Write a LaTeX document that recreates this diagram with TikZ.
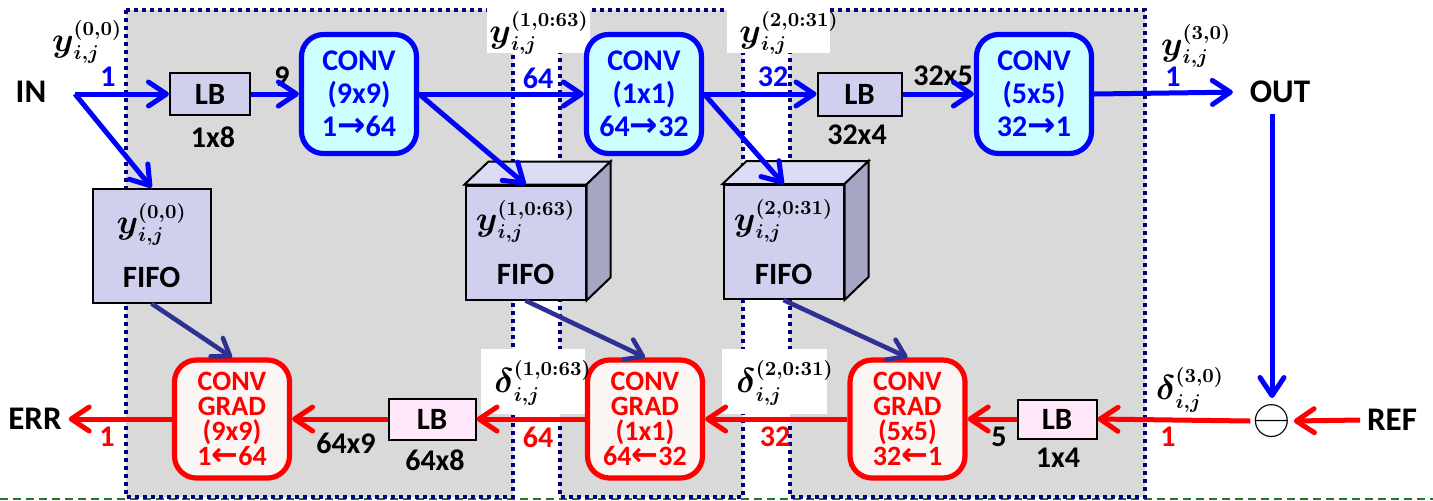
\documentclass[tikz,border=0pt]{standalone}
\usepackage{amsmath, amssymb}
\usepackage[no-math]{fontspec}
\setmainfont{Carlito}
\newfontfamily\arrowfont{DejaVu Sans}
\usepackage{tikz}
\usetikzlibrary{arrows.meta, positioning, calc}
\usepackage{xcolor}
\definecolor{fwdblue}{HTML}{0000FF}
\definecolor{bwdred}{HTML}{FF0000}
\definecolor{convfill}{HTML}{CCFFFF}
\definecolor{gradfill}{HTML}{FBF5F3}
\definecolor{lbtopfill}{HTML}{D0D0EE}
\definecolor{lbbotfill}{HTML}{FFE8F9}
\definecolor{fifofront}{HTML}{D0D0EE}
\definecolor{fifotop}{HTML}{DCDCF4}
\definecolor{fifoside}{HTML}{A6A6C4}
\definecolor{fifonavy}{HTML}{2E3192}
\definecolor{panelgray}{HTML}{D9D9D9}
\definecolor{panelnavy}{HTML}{000080}
\definecolor{dashgreen}{HTML}{1E7B1E}

\newcommand{\ylab}[1]{{\fontsize{14}{16}\selectfont\boldmath$\text{\fontsize{18}{20}\selectfont$y$}^{(#1)}_{i,j}$}}
\newcommand{\dlab}[1]{{\fontsize{14}{16}\selectfont\boldmath$\text{\fontsize{18}{20}\selectfont$\delta$}^{(#1)}_{i,j}$}}
\newcommand{\toarr}{{\arrowfont\bfseries\fontsize{17}{16}\selectfont →}}
\newcommand{\fromarr}{{\arrowfont\bfseries\fontsize{16}{12}\selectfont ←}}

\begin{document}
\begin{tikzpicture}[x=0.5pt, y=-0.5pt,
        every node/.style={font=\bfseries\fontsize{15.5}{17}\selectfont},
        term/.style={font=\bfseries\fontsize{16.5}{18}\selectfont},
        elbl/.style={font=\bfseries\fontsize{15}{16}\selectfont},
        convbox/.style={draw=fwdblue, fill=convfill, line width=2.6pt, rounded corners=11pt, minimum width=57.5pt, minimum height=59.5pt, inner sep=0pt, align=center, text=fwdblue, font=\bfseries\fontsize{15}{16.5}\selectfont},
        gradbox/.style={draw=bwdred, fill=gradfill, line width=2.6pt, rounded corners=11pt, minimum width=57.5pt, minimum height=59pt, inner sep=0pt, align=center, text=bwdred, font=\bfseries\fontsize{14}{12.4}\selectfont},
        lbbox/.style={draw=black, line width=1pt, minimum width=40pt, minimum height=21pt, inner sep=0pt},
        fifobox/.style={draw=black, fill=fifofront, line width=1pt, minimum width=59pt, minimum height=57pt, inner sep=0pt, align=center},
        panel/.style={fill=panelgray, draw=panelnavy, line width=2pt, dash pattern=on 2pt off 2pt},
        fwdarr/.style={draw=fwdblue, line width=2.5pt, -{Straight Barb[length=9pt, width=12pt, round]}},
        bwdarr/.style={draw=bwdred, line width=2.5pt, -{Straight Barb[length=9pt, width=12pt, round]}},
        fifoarr/.style={draw=fifonavy, line width=2.3pt, -{Straight Barb[length=8pt, width=11pt, round]}}
    ]
        \useasboundingbox (0,0) rectangle (1433,500);

        % PANELS
        \draw[dashgreen, line width=1pt, dash pattern=on 4pt off 2.5pt] (0,499) -- (1433,499);
        \draw[panel] (126,10) rectangle (513,497);
        \draw[panel] (560,10) rectangle (743,497);
        \draw[panel] (790,10) rectangle (1145,497);
        \fill[white] (487,0) rectangle (590,53);
        \fill[white] (727,0) rectangle (830,53);
        \fill[white] (481,349) rectangle (585,414);
        \fill[white] (722,349) rectangle (827,414);

        % FORWARD PATH
        \node[term] (in) at (31,92) {IN};
        \coordinate (split) at (75,94);
        \node[lbbox, fill=lbtopfill] (lb1) at (210,94) {LB};
        \node[convbox] (conv1) at (359,94) {CONV\\(9x9)\\1\toarr64};
        \node[convbox] (conv2) at (644,94) {CONV\\(1x1)\\64\toarr32};
        \node[lbbox, fill=lbtopfill, minimum width=42pt, minimum height=21.5pt] (lb2) at (859.5,94) {LB};
        \node[convbox] (conv3) at (1034,94) {CONV\\(5x5)\\32\toarr1};
        \node[term] (out) at (1280,92) {OUT};

        % FIFOS
        \node[fifobox] (fifo0) at (151.5,245.5) {\ylab{0,0}\\[10pt]FIFO};
        \node[fifobox, minimum width=60pt] (fifo1) at (525.5,242.5) {\ylab{1,0:63}\\[10pt]FIFO};
        \draw[line width=1pt, fill=fifotop] (fifo1.north west) -- ++(24,-23) -- ($(fifo1.north east)+(24,-23)$) -- (fifo1.north east) -- cycle;
        \draw[line width=1pt, fill=fifoside] (fifo1.north east) -- ++(24,-23) -- ($(fifo1.south east)+(24,-23)$) -- (fifo1.south east) -- cycle;
        \node[fifobox, minimum width=60pt] (fifo2) at (783.5,242) {\ylab{2,0:31}\\[10pt]FIFO};
        \draw[line width=1pt, fill=fifotop] (fifo2.north west) -- ++(24,-23) -- ($(fifo2.north east)+(24,-23)$) -- (fifo2.north east) -- cycle;
        \draw[line width=1pt, fill=fifoside] (fifo2.north east) -- ++(24,-23) -- ($(fifo2.south east)+(24,-23)$) -- (fifo2.south east) -- cycle;

        % BACKWARD PATH
        \node[term] (ref) at (1392,420) {REF};
        \node[font=\fontsize{27}{28}\selectfont, inner sep=1pt] (minus) at (1272,421) {$\ominus$};
        \node[lbbox, fill=lbbotfill, minimum width=39.5pt, minimum height=19.5pt] (lb3) at (1057,419) {LB};
        \node[gradbox] (grad3) at (907.5,419) {CONV\\GRAD\\(5x5)\\32\fromarr1};
        \node[gradbox] (grad2) at (645,419) {CONV\\GRAD\\(1x1)\\64\fromarr32};
        \node[lbbox, fill=lbbotfill, minimum width=43.5pt, minimum height=20.5pt] (lb4) at (432,419) {LB};
        \node[gradbox] (grad1) at (232,419) {CONV\\GRAD\\(9x9)\\1\fromarr64};
        \node[term] (err) at (35,419) {ERR};

        % LABELS
        \node (yin) at (87,42) {\ylab{0,0}};
        \node (yc1) at (539,33) {\ylab{1,0:63}};
        \node (yc2) at (789,33) {\ylab{2,0:31}};
        \node (yout) at (1196,46) {\ylab{3,0}};
        \node (dc1) at (543,383) {\dlab{1,0:63}};
        \node (dc2) at (785,383) {\dlab{2,0:31}};
        \node (dout) at (1190,390) {\dlab{3,0}};
        \node[elbl, text=fwdblue] (win) at (108,77) {1};
        \node[elbl] (wlb1) at (282,77) {9};
        \node[elbl, text=fwdblue] (wc1) at (538,78) {64};
        \node[elbl, text=fwdblue] (wc2) at (773,77) {32};
        \node[elbl] (wlb2) at (943,76) {32x5};
        \node[elbl, text=fwdblue] (wout) at (1173,77) {1};
        \node[elbl] (slb1) at (213,137) {1x8};
        \node[elbl] (slb2) at (857,135) {32x4};
        \node[elbl, text=bwdred] (derr) at (107,437) {1};
        \node[elbl] (dlb4) at (346,443) {64x9};
        \node[elbl, text=bwdred] (dg2) at (538,437) {64};
        \node[elbl, text=bwdred] (dg3) at (775,437) {32};
        \node[elbl] (dlb3) at (999,437) {5};
        \node[elbl, text=bwdred] (dref) at (1168,437) {1};
        \node[elbl] (slb4) at (435,460) {64x8};
        \node[elbl] (slb3) at (1058,458) {1x4};

        % CONNECTORS
        \draw[fwdarr] (split) -- (lb1.west);
        \draw[fwdarr] (split) -- (fifo0.north);
        \draw[fwdarr] (lb1.east) -- (conv1.west);
        \draw[fwdarr] (conv1.east) -- (conv2.west);
        \draw[fwdarr] (conv1.east) -- (fifo1.north);
        \draw[fwdarr] (conv2.east) -- (lb2.west);
        \draw[fwdarr] (conv2.east) -- (fifo2.north);
        \draw[fwdarr] (lb2.east) -- (conv3.west);
        \draw[fwdarr, shorten >=5pt] (conv3.east) -- (out.west);
        \draw[fwdarr, shorten <=2pt, shorten >=2pt] (out.south -| minus.north) -- (minus.north);
        \draw[bwdarr] (ref.west) -- (minus.east);
        \draw[bwdarr] (minus.west) -- (lb3.east);
        \draw[bwdarr] (lb3.west) -- (grad3.east);
        \draw[bwdarr] (grad3.west) -- (grad2.east);
        \draw[bwdarr] (grad2.west) -- (lb4.east);
        \draw[bwdarr] (lb4.west) -- (grad1.east);
        \draw[bwdarr] (grad1.west) -- (err.east);
        \draw[fifoarr] (fifo0.south) -- (grad1.north);
        \draw[fifoarr] (fifo1.south) -- (grad2.north);
        \draw[fifoarr] (fifo2.south) -- (grad3.north);
    \end{tikzpicture}
\end{document}
